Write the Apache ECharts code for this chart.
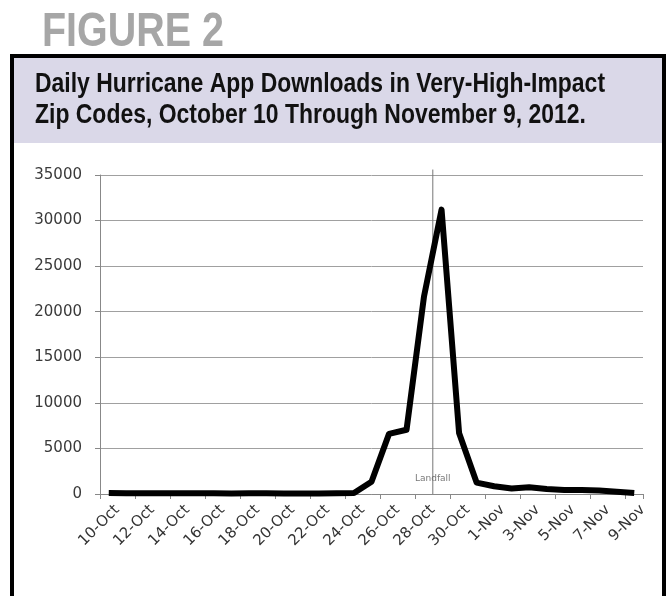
<!DOCTYPE html>
<html>
<head>
<meta charset="utf-8">
<script src="https://cdn.jsdelivr.net/npm/echarts@6/dist/echarts.min.js"></script>
<style>
html,body{margin:0;padding:0;background:#fff;}
#chart{width:667px;height:596px;}
</style>
</head>
<body>
<div id="chart"></div>
<script>
var figureLabel = 'FIGURE 2';
var titleLines = ['Daily Hurricane App Downloads in Very-High-Impact', 'Zip Codes, October 10 Through November 9, 2012.'];
var dates = ['10-Oct','11-Oct','12-Oct','13-Oct','14-Oct','15-Oct','16-Oct','17-Oct','18-Oct','19-Oct','20-Oct','21-Oct','22-Oct','23-Oct','24-Oct','25-Oct','26-Oct','27-Oct','28-Oct','29-Oct','30-Oct','31-Oct','1-Nov','2-Nov','3-Nov','4-Nov','5-Nov','6-Nov','7-Nov','8-Nov','9-Nov'];
var downloads = [100,80,70,80,80,80,70,60,70,80,60,50,60,70,100,1350,6600,7050,21700,31200,6700,1250,850,600,750,550,450,450,380,250,100];
var yTicks = [0,5000,10000,15000,20000,25000,30000,35000];
var landfallPosition = 19; // boundary at start of 29-Oct
var landfallText = 'Landfall';
var landfallTextLevel = 1650;

var chart = echarts.init(document.getElementById('chart'), null, {renderer:'canvas'});
var sans = '"Liberation Sans", Arial, sans-serif';
var option = {
  animation:false,
  backgroundColor:'#fff',
  graphic:[
    {type:'rect', z:-10, shape:{x:14,y:58,width:648,height:85}, style:{fill:'#dad8e8'}},
    {type:'rect', z:-9, shape:{x:12,y:56,width:652,height:600}, style:{fill:'none',stroke:'#000',lineWidth:4}},
    {type:'text', x:42, y:32.5, scaleX:0.83,
     style:{text:figureLabel, fontFamily:sans, fontWeight:'bold', fontSize:47.5, fill:'#a6a6a6', align:'left', verticalAlign:'middle'}},
    {type:'text', x:35, y:84.6, scaleX:0.85,
     style:{text:titleLines[0], fontFamily:sans, fontWeight:'bold', fontSize:27, fill:'#111', align:'left', verticalAlign:'middle'}},
    {type:'text', x:35, y:115.6, scaleX:0.85,
     style:{text:titleLines[1], fontFamily:sans, fontWeight:'bold', fontSize:27, fill:'#111', align:'left', verticalAlign:'middle'}}
  ],
  grid:{left:100, right:24, top:175, bottom:102, containLabel:false},
  xAxis:[
    {type:'category', data:dates, boundaryGap:true,
     axisLine:{lineStyle:{color:'#888', width:1}},
     axisTick:{show:true, interval:1, length:5, lineStyle:{color:'#888'}},
     axisLabel:{interval:1, rotate:45, margin:22, padding:[0,-12,0,0], fontFamily:'DejaVu Sans', fontSize:15, color:'#333'}},
    {type:'value', min:0, max:dates.length, show:false}
  ],
  yAxis:{type:'value', min:yTicks[0], max:yTicks[yTicks.length-1], interval:yTicks[1]-yTicks[0],
    axisLine:{show:true, lineStyle:{color:'#888'}},
    axisTick:{show:true, length:5, lineStyle:{color:'#888'}},
    axisLabel:{fontFamily:'DejaVu Sans', fontSize:15, color:'#3a3a3a', margin:18, formatter:function(v){return String(v);}},
    splitLine:{lineStyle:{color:'#a0a0a0', width:1}}
  },
  series:[
    {type:'line', xAxisIndex:1, data:[[landfallPosition,yTicks[0]],[landfallPosition,35600]],
     clip:false, symbol:'none', lineStyle:{color:'#777', width:1}, z:1, silent:true},
    {type:'scatter', xAxisIndex:1, data:[[landfallPosition,landfallTextLevel]], symbolSize:0,
     label:{show:true, position:'inside', formatter:landfallText, fontFamily:'DejaVu Sans', fontSize:9, color:'#555'}, silent:true},
    {type:'line', xAxisIndex:0, data:downloads, symbol:'none', lineStyle:{color:'#000', width:6, join:'round'}, z:3}
  ]
};
chart.setOption(option);
</script>
</body>
</html>
